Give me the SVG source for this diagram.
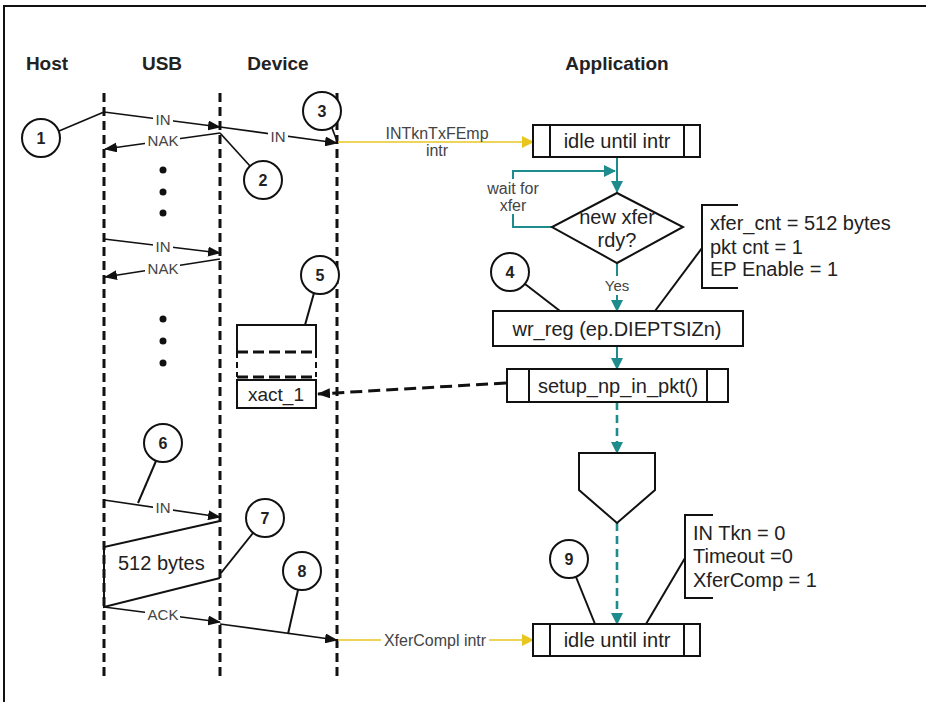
<svg xmlns="http://www.w3.org/2000/svg" width="926" height="702" viewBox="0 0 926 702">
<defs>
<marker id="ab" markerUnits="userSpaceOnUse" markerWidth="13" markerHeight="10" refX="12" refY="5" orient="auto"><path d="M0,0 L13,5 L0,10 z" fill="#111"/></marker>
<marker id="at" markerUnits="userSpaceOnUse" markerWidth="12" markerHeight="12" refX="11" refY="6" orient="auto"><path d="M0,0 L12,6 L0,12 z" fill="#1e8c8c"/></marker>
<marker id="ay" markerUnits="userSpaceOnUse" markerWidth="12" markerHeight="12" refX="11" refY="6" orient="auto"><path d="M0,0 L12,6 L0,12 z" fill="#e8c620"/></marker>
</defs>
<style>
.life{stroke:#111;stroke-width:3;stroke-dasharray:9 5;fill:none}
.ln{stroke:#111;stroke-width:1.7;fill:none}
.lt{stroke:#111;stroke-width:2;fill:none}
.teal{stroke:#1e8c8c;stroke-width:2;fill:none}
.tdash{stroke:#1e8c8c;stroke-width:2.6;stroke-dasharray:8 5;fill:none}
.bdash{stroke:#111;stroke-width:3;stroke-dasharray:12 6;fill:none}
.yel{stroke:#e8c620;stroke-width:1.5;fill:none}
.box{fill:#fff;stroke:#111;stroke-width:2}
.circ{fill:#fff;stroke:#111;stroke-width:2}
.num{font:bold 16px "Liberation Sans",Arial,sans-serif;fill:#222;text-anchor:middle}
.hdr{font:bold 19px "Liberation Sans",Arial,sans-serif;fill:#222;text-anchor:middle}
.t20{font:20px "Liberation Sans",Arial,sans-serif;fill:#222}
.t16{font:16px "Liberation Sans",Arial,sans-serif;fill:#444;text-anchor:middle}
.lbl{font:15px "Liberation Sans",Arial,sans-serif;fill:#444;text-anchor:middle}
.mid{text-anchor:middle}
.bg{fill:#fff;stroke:none}
.dot{fill:#111}
</style>
<rect x="0" y="0" width="926" height="702" fill="#fff"/>
<path d="M4,702 V6 H926" fill="none" stroke="#111" stroke-width="2"/>

<g id="headers">
<text class="hdr" x="47" y="70">Host</text>
<text class="hdr" x="162" y="70">USB</text>
<text class="hdr" x="278" y="70">Device</text>
<text class="hdr" x="617" y="70">Application</text>
</g>

<g id="lifelines">
<line class="life" x1="104" y1="93" x2="104" y2="677"/>
<line class="life" x1="220" y1="93" x2="220" y2="677"/>
<line class="life" x1="337" y1="93" x2="337" y2="677"/>
</g>

<g id="connectors">
<line class="ln" x1="59" y1="131" x2="104" y2="112"/>
<line class="ln" x1="104" y1="112" x2="220" y2="127" marker-end="url(#ab)"/>
<line class="ln" x1="220" y1="133" x2="105" y2="149" marker-end="url(#ab)"/>
<line class="ln" x1="220" y1="133" x2="250" y2="166"/>
<line class="ln" x1="220" y1="127" x2="337" y2="143" marker-end="url(#ab)"/>
<line class="ln" x1="332" y1="128" x2="337" y2="141"/>
<line class="ln" x1="104" y1="239" x2="220" y2="253" marker-end="url(#ab)"/>
<line class="ln" x1="220" y1="259" x2="105" y2="277" marker-end="url(#ab)"/>
<line class="yel" x1="338" y1="142" x2="533" y2="142" marker-end="url(#ay)"/>
<line class="teal" x1="617" y1="157" x2="617" y2="192" marker-end="url(#at)"/>
<path class="teal" d="M552,227 H513 V214 M513,179 V171 H615" marker-end="url(#at)"/>
<line class="teal" x1="617" y1="263" x2="617" y2="276"/>
<line class="teal" x1="617" y1="295" x2="617" y2="311" marker-end="url(#at)"/>
<line class="lt" x1="525" y1="284" x2="560" y2="311"/>
<line class="lt" x1="702" y1="248" x2="655" y2="311"/>
<line class="teal" x1="617" y1="346" x2="617" y2="369" marker-end="url(#at)"/>
<line class="bdash" x1="506" y1="383" x2="318" y2="394" marker-end="url(#ab)"/>
<line class="tdash" x1="617" y1="402" x2="617" y2="453" marker-end="url(#at)"/>
<line class="lt" x1="314" y1="293" x2="305" y2="325"/>
<line class="lt" x1="156" y1="461" x2="138" y2="503"/>
<line class="ln" x1="104" y1="500" x2="220" y2="517" marker-end="url(#ab)"/>
<path class="lt" d="M220,521 L104,547 V607 L220,578"/>
<line class="lt" x1="253" y1="533" x2="221" y2="573"/>
<line class="ln" x1="104" y1="607" x2="220" y2="622" marker-end="url(#ab)"/>
<line class="ln" x1="220" y1="624" x2="337" y2="640" marker-end="url(#ab)"/>
<line class="lt" x1="298" y1="590" x2="288" y2="634"/>
<line class="yel" x1="338" y1="640" x2="533" y2="640" marker-end="url(#ay)"/>
<line class="tdash" x1="617" y1="523" x2="617" y2="624" marker-end="url(#at)"/>
<line class="lt" x1="576" y1="577" x2="595" y2="624"/>
<line class="lt" x1="685" y1="558" x2="646" y2="624"/>
</g>

<g id="labels">
<rect class="bg" x="153" y="113" width="20" height="14"/>
<text class="lbl" x="163" y="125">IN</text>
<rect class="bg" x="145" y="134" width="35" height="14"/>
<text class="lbl" x="163" y="146">NAK</text>
<rect class="bg" x="268" y="130" width="20" height="14"/>
<text class="lbl" x="278" y="142">IN</text>
<rect class="bg" x="153" y="240" width="20" height="14"/>
<text class="lbl" x="163" y="252">IN</text>
<rect class="bg" x="145" y="262" width="35" height="14"/>
<text class="lbl" x="163" y="274">NAK</text>
<rect class="bg" x="153" y="501" width="20" height="14"/>
<text class="lbl" x="163" y="513">IN</text>
<rect class="bg" x="145" y="608" width="35" height="14"/>
<text class="lbl" x="163" y="620">ACK</text>
<text class="t16" x="437" y="139">INTknTxFEmp</text>
<text class="t16" x="437" y="156">intr</text>
<rect class="bg" x="381" y="632" width="108" height="16"/>
<text class="t16" x="435" y="646">XferCompl intr</text>
<text class="t16" x="513" y="194">wait for</text>
<text class="t16" x="513" y="211">xfer</text>
<rect class="bg" x="603" y="277" width="28" height="17"/>
<text class="lbl" x="617" y="291">Yes</text>
<text class="t20" x="104" y="570" dx="14">512 bytes</text>
</g>

<g id="dots">
<circle class="dot" cx="163" cy="170" r="3.5"/>
<circle class="dot" cx="163" cy="192" r="3.5"/>
<circle class="dot" cx="163" cy="213" r="3.5"/>
<circle class="dot" cx="163" cy="319" r="3.5"/>
<circle class="dot" cx="163" cy="341" r="3.5"/>
<circle class="dot" cx="163" cy="363" r="3.5"/>
</g>

<g id="n1"><circle class="circ" cx="41" cy="138" r="19"/><text class="num" x="41" y="144">1</text></g>
<g id="n2"><circle class="circ" cx="263" cy="180" r="19"/><text class="num" x="263" y="186">2</text></g>
<g id="n3"><circle class="circ" cx="322" cy="111" r="19"/><text class="num" x="322" y="117">3</text></g>
<g id="n4"><circle class="circ" cx="510" cy="272" r="19"/><text class="num" x="510" y="278">4</text></g>
<g id="n5"><circle class="circ" cx="320" cy="275" r="19"/><text class="num" x="320" y="281">5</text></g>
<g id="n6"><circle class="circ" cx="163" cy="443" r="19"/><text class="num" x="163" y="449">6</text></g>
<g id="n7"><circle class="circ" cx="265" cy="518" r="19"/><text class="num" x="265" y="524">7</text></g>
<g id="n8"><circle class="circ" cx="302" cy="571" r="19"/><text class="num" x="302" y="577">8</text></g>
<g id="n9"><circle class="circ" cx="569" cy="559" r="19"/><text class="num" x="569" y="565">9</text></g>

<g id="idle1">
<rect class="box" x="533" y="125" width="167" height="32"/>
<line class="lt" x1="550" y1="125" x2="550" y2="157"/>
<line class="lt" x1="684" y1="125" x2="684" y2="157"/>
<text class="t20 mid" x="617" y="148">idle until intr</text>
</g>

<g id="decision">
<polygon class="box" points="617,193 683,227 617,263 552,227"/>
<text class="t20 mid" x="617" y="224">new xfer</text>
<text class="t20 mid" x="617" y="247">rdy?</text>
</g>

<g id="note1">
<path class="lt" d="M738,205 H702 V288 H738"/>
<text class="t20" x="710" y="230">xfer_cnt = 512 bytes</text>
<text class="t20" x="710" y="254">pkt cnt = 1</text>
<text class="t20" x="710" y="276">EP Enable = 1</text>
</g>

<g id="wrreg">
<rect class="box" x="493" y="311" width="250" height="35"/>
<text class="t20 mid" x="617" y="336">wr_reg (ep.DIEPTSIZn)</text>
</g>

<g id="setup">
<rect class="box" x="507" y="369" width="221" height="33"/>
<line class="lt" x1="529" y1="369" x2="529" y2="402"/>
<line class="lt" x1="707" y1="369" x2="707" y2="402"/>
<text class="t20 mid" x="618" y="393">setup_np_in_pkt()</text>
</g>

<g id="fifo">
<path class="lt" d="M237,352 V325 H316 V352"/>
<line x1="237" y1="352" x2="316" y2="352" stroke="#111" stroke-width="3" stroke-dasharray="11 5"/>
<line x1="237" y1="352" x2="237" y2="377" stroke="#111" stroke-width="2" stroke-dasharray="6 4"/>
<line x1="316" y1="352" x2="316" y2="377" stroke="#111" stroke-width="2" stroke-dasharray="6 4"/>
<line x1="237" y1="377" x2="316" y2="377" stroke="#111" stroke-width="3" stroke-dasharray="11 5"/>
<rect class="box" x="237" y="380" width="79" height="28"/>
<text class="t20 mid" x="276" y="401" style="font-size:19px">xact_1</text>
</g>

<g id="connector-page">
<polygon class="box" points="579,453 655,453 655,490 617,523 579,490"/>
</g>

<g id="note2">
<path class="lt" d="M713,515 H685 V598 H713"/>
<text class="t20" x="693" y="540">IN Tkn = 0</text>
<text class="t20" x="693" y="563">Timeout =0</text>
<text class="t20" x="693" y="587">XferComp = 1</text>
</g>

<g id="idle2">
<rect class="box" x="533" y="624" width="167" height="32"/>
<line class="lt" x1="550" y1="624" x2="550" y2="656"/>
<line class="lt" x1="684" y1="624" x2="684" y2="656"/>
<text class="t20 mid" x="617" y="647">idle until intr</text>
</g>
</svg>
